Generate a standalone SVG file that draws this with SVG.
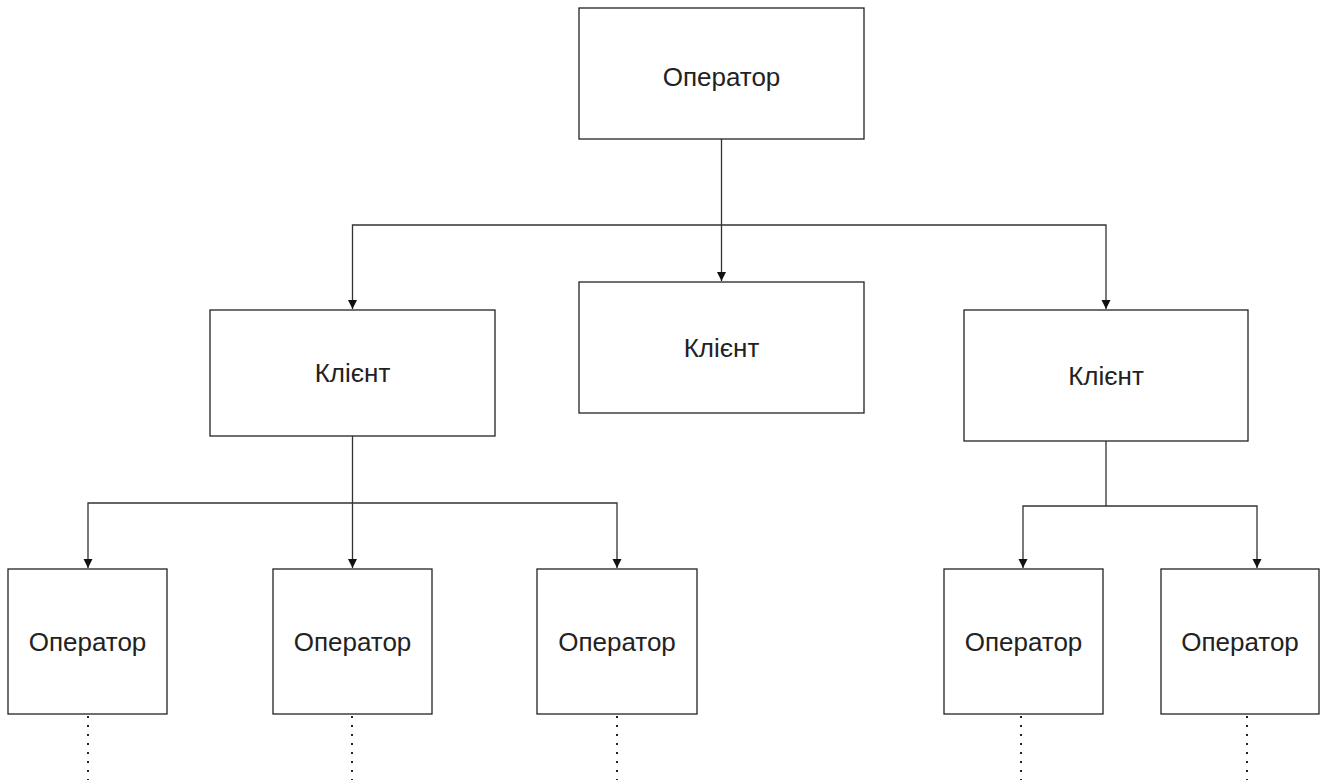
<svg xmlns="http://www.w3.org/2000/svg" width="1327" height="780" viewBox="0 0 1327 780">
<style>
.box{fill:#fff;stroke:#222;stroke-width:1.3}
.lbl{font-family:"Liberation Sans",Arial,sans-serif;font-size:26px;fill:#222;text-anchor:middle}
.con{fill:none;stroke:#333;stroke-width:1.3}
.dot{fill:none;stroke:#222;stroke-width:2;stroke-dasharray:2 7}
</style>
<defs>
<marker id="arr" markerWidth="10" markerHeight="10" refX="9" refY="4.5" orient="auto" markerUnits="userSpaceOnUse">
<path d="M0,0 L9,4.5 L0,9 Z" fill="#111"/>
</marker>
</defs>
<rect width="1327" height="780" fill="#fff"/>
<g id="connectors">
<path class="con" d="M721.5,139 V281" marker-end="url(#arr)"/>
<path class="con" d="M721.5,225 H352.5 V309" marker-end="url(#arr)"/>
<path class="con" d="M721.5,225 H1106 V309" marker-end="url(#arr)"/>
<path class="con" d="M352.5,436 V568" marker-end="url(#arr)"/>
<path class="con" d="M352.5,503 H88 V568" marker-end="url(#arr)"/>
<path class="con" d="M352.5,503 H617 V568" marker-end="url(#arr)"/>
<path class="con" d="M1106,441 V506 H1023 V568" marker-end="url(#arr)"/>
<path class="con" d="M1106,506 H1257 V568" marker-end="url(#arr)"/>
<path class="dot" d="M88,716 V780"/>
<path class="dot" d="M352,716 V780"/>
<path class="dot" d="M617,716 V780"/>
<path class="dot" d="M1021,716 V780"/>
<path class="dot" d="M1247,716 V780"/>
</g>
<g id="op-top"><rect class="box" x="579" y="8" width="285" height="131"/><text class="lbl" x="721.5" y="86">Оператор</text></g>
<g id="client-left"><rect class="box" x="210" y="310" width="285" height="126"/><text class="lbl" x="352.5" y="382">Клієнт</text></g>
<g id="client-mid"><rect class="box" x="579" y="282" width="285" height="131"/><text class="lbl" x="721.5" y="357">Клієнт</text></g>
<g id="client-right"><rect class="box" x="964" y="310" width="284" height="131"/><text class="lbl" x="1106" y="385">Клієнт</text></g>
<g id="op1"><rect class="box" x="8" y="569" width="159" height="145"/><text class="lbl" x="87.5" y="651">Оператор</text></g>
<g id="op2"><rect class="box" x="273" y="569" width="159" height="145"/><text class="lbl" x="352.5" y="651">Оператор</text></g>
<g id="op3"><rect class="box" x="537" y="569" width="160" height="145"/><text class="lbl" x="617" y="651">Оператор</text></g>
<g id="op4"><rect class="box" x="944" y="569" width="159" height="145"/><text class="lbl" x="1023.5" y="651">Оператор</text></g>
<g id="op5"><rect class="box" x="1161" y="569" width="158" height="145"/><text class="lbl" x="1240" y="651">Оператор</text></g>
</svg>
